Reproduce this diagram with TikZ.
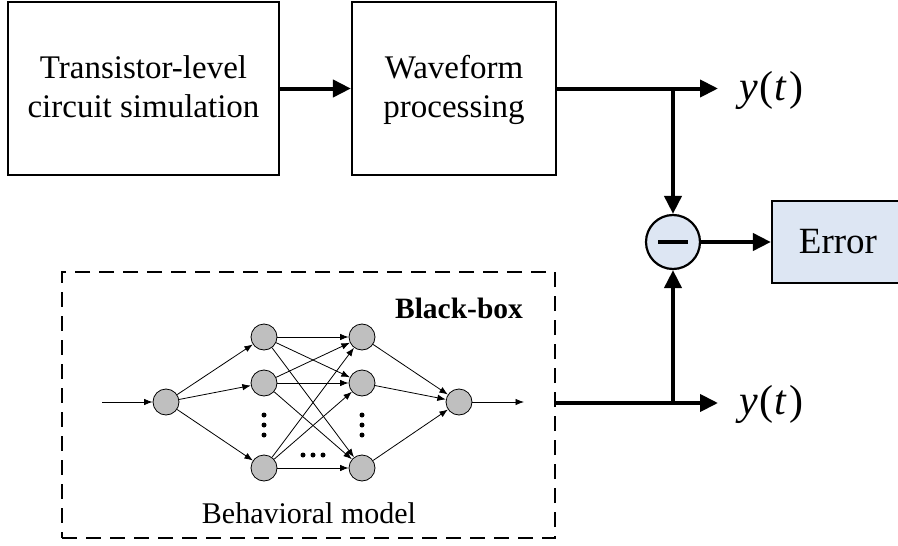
\documentclass[tikz,border=0pt]{standalone}
\usepackage{fontspec}
\setmainfont{Liberation Serif}
\usetikzlibrary{arrows.meta}
\definecolor{paleblue}{RGB}{221,230,243}
% strut that puts the two text lines of a block where they belong
\newcommand\lnstrut{\rule[-9.7pt]{0pt}{39pt}}
\newcommand\ysig{\itshape y\kern2pt\upshape(\kern1pt\itshape t\kern3pt\upshape)}
\begin{document}
\begin{tikzpicture}[x=1pt,y=-1pt,
  blockbox/.style={draw,line width=2.2pt,minimum width=#1,minimum height=173pt,inner sep=0pt,align=center,
    font=\fontsize{33}{39}\selectfont},
  bigarrow/.style={line width=4pt,-{Triangle[length=18pt,width=17pt]}},
  thickline/.style={line width=4pt},
  neuron/.style={circle,draw,line width=0.8pt,fill=black!25,minimum size=26pt,inner sep=0pt},
  link/.style={line width=0.8pt,-{Latex[length=8.5pt,width=6.5pt]}},
  dotmark/.style={circle,fill=black,inner sep=0pt,minimum size=5pt},
  ylabel/.style={anchor=west,inner sep=0pt,font=\fontsize{42}{50}\selectfont}
]
\useasboundingbox (0,0) rectangle (898,546);

% upper chain
\node[blockbox=271pt] (sim) at (143.5,88.5) {\lnstrut Transistor-level\\\lnstrut circuit simulation};
\node[blockbox=204pt] (wave) at (454,88.5) {\lnstrut Waveform\\\lnstrut processing};
\draw[bigarrow] (sim.east) -- (wave.west);

% comparison
\node[circle,draw,line width=2.2pt,fill=paleblue,minimum size=54pt,inner sep=0pt] (diff) at (673,242) {};
\draw[line width=4.5pt] ([xshift=-15pt]diff.center) -- ([xshift=15pt]diff.center);
\node[draw,line width=2.2pt,fill=paleblue,minimum width=132pt,minimum height=82pt,inner sep=0pt,
  font=\fontsize{37}{44}\selectfont] (err) at (838,242) {Error};
\draw[bigarrow] (diff.east) -- (err.west);

% upper output
\coordinate (jtop) at (673,88.5);
\coordinate (tiptop) at (718,88.5);
\node[ylabel] (ytop) at (739,90) {\ysig};
\draw[thickline] (wave.east) -- (jtop);
\draw[bigarrow] (jtop) -- (tiptop);
\draw[bigarrow] (jtop) -- (diff.north);

% behavioral model box
\node[draw,dash pattern=on 15pt off 9pt,line width=2.5pt,minimum width=493pt,minimum height=266pt,inner sep=0pt]
  (bb) at (308.5,405) {};
\node[font=\fontsize{29.5}{35}\selectfont\bfseries] (bbt) at (459,308) {Black-box};
\node[font=\fontsize{30}{36}\selectfont] (bmt) at (309,513) {Behavioral model};

% lower output
\coordinate (bbout) at (555,403);
\coordinate (jbot) at (673,403);
\coordinate (tipbot) at (718,403);
\node[ylabel] (ybot) at (739,404.5) {\ysig};
\draw[thickline] (bbout) -- (jbot);
\draw[bigarrow] (jbot) -- (tipbot);
\draw[bigarrow] (jbot) -- (diff.south);

% neural network
\coordinate (nin) at (102,402);
\coordinate (nout) at (524,402);
\node[neuron] (i) at (166,402) {};
\node[neuron] (a1) at (264,337) {};
\node[neuron] (a2) at (264,383) {};
\node[neuron] (a3) at (264,468) {};
\node[neuron] (b1) at (362,337) {};
\node[neuron] (b2) at (362,383) {};
\node[neuron] (b3) at (362,468) {};
\node[neuron] (o) at (459,402) {};

\draw[link] (nin) -- (i);
\draw[link] (o) -- (nout);
\foreach \a in {a1,a2,a3} {
  \draw[link] (i) -- (\a);
  \foreach \b in {b1,b2,b3} \draw[link] (\a) -- (\b);
}
\foreach \b in {b1,b2,b3} \draw[link] (\b) -- (o);

% ellipsis dots
\node[dotmark] (va1) at (264,415) {};
\node[dotmark] (va2) at (264,425) {};
\node[dotmark] (va3) at (264,435) {};
\node[dotmark] (vb1) at (362,415) {};
\node[dotmark] (vb2) at (362,425) {};
\node[dotmark] (vb3) at (362,435) {};
\node[dotmark] (h1) at (303,455) {};
\node[dotmark] (h2) at (313,455) {};
\node[dotmark] (h3) at (323,455) {};
\end{tikzpicture}
\end{document}
